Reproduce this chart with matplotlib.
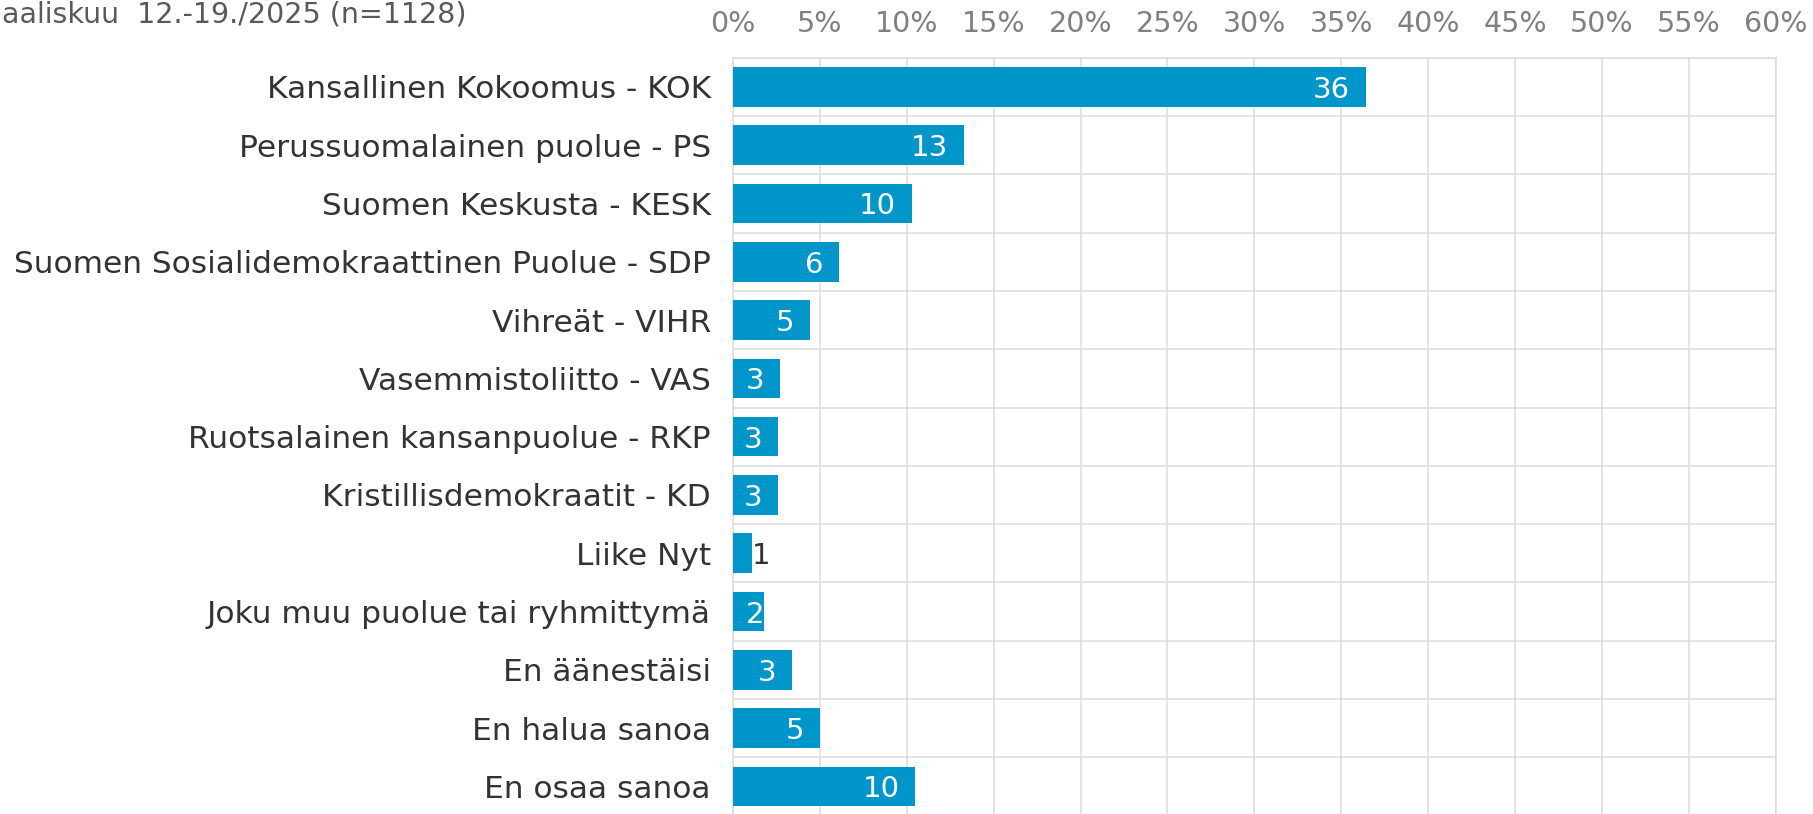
import matplotlib
matplotlib.use("Agg")
import matplotlib.pyplot as plt
import matplotlib.transforms as mtransforms
import numpy as np

# Data
categories = [
    "Kansallinen Kokoomus - KOK",
    "Perussuomalainen puolue - PS",
    "Suomen Keskusta - KESK",
    "Suomen Sosialidemokraattinen Puolue - SDP",
    "Vihreät - VIHR",
    "Vasemmistoliitto - VAS",
    "Ruotsalainen kansanpuolue - RKP",
    "Kristillisdemokraatit - KD",
    "Liike Nyt",
    "Joku muu puolue tai ryhmittymä",
    "En äänestäisi",
    "En halua sanoa",
    "En osaa sanoa",
]
values = [36.4, 13.3, 10.3, 6.1, 4.45, 2.7, 2.6, 2.6, 1.1, 1.8, 3.4, 5.0, 10.5]
labels = ["36", "13", "10", "6", "5", "3", "3", "3", "1", "2", "3", "5", "10"]
xticks = list(range(0, 61, 5))
title = "aaliskuu  12.-19./2025 (n=1128)"

bar_color = "#0096c9"
grid_color = "#dcdcdc"
text_color = "#333333"
tick_color = "#808080"

W, H = 1813, 814
fig = plt.figure(figsize=(W / 100, H / 100), dpi=100)
ax = fig.add_axes([733 / W, 1 - 815.6 / H, (1775.7 - 733) / W, (815.6 - 57.7) / H])

y = np.arange(len(categories))
ax.barh(y, values, height=0.68, color=bar_color, zorder=3)

ax.set_xlim(0, 60)
ax.set_ylim(len(categories) - 0.5, -0.5)

# grid: vertical every 5 %, horizontal between rows
ax.set_xticks(xticks)
ax.set_xticklabels([f"{t}%" for t in xticks])
ax.set_yticks(y)
ax.set_yticklabels(categories)
ax.set_yticks(np.arange(len(categories) + 1) - 0.5, minor=True)
ax.grid(axis="x", which="major", color=grid_color, lw=1.1, zorder=0)
ax.grid(axis="y", which="minor", color=grid_color, lw=1.1, zorder=0)
ax.grid(axis="y", which="major", visible=False)

ax.xaxis.tick_top()
ax.tick_params(axis="x", which="both", length=0, pad=14.5, labelsize=20.5, labelcolor=tick_color)
ax.tick_params(axis="y", which="both", length=0, pad=16, labelsize=22.5, labelcolor=text_color)
for s in ax.spines.values():
    s.set_color(grid_color)
    s.set_linewidth(1.1)

# data labels at inside end
for i, (v, lab) in enumerate(zip(values, labels)):
    if v < 1.5:
        ax.text(v, i, lab, ha="left", va="center_baseline", fontsize=21, color=text_color, zorder=4)
    elif v < 2.2:
        ax.text(v, i, lab, ha="right", va="center_baseline", fontsize=21, color="white", zorder=4)
    else:
        tr = ax.transData + mtransforms.ScaledTranslation(-11.5 / 72, 0, fig.dpi_scale_trans)
        ax.text(v, i, lab, ha="right", va="center_baseline", fontsize=21, color="white",
                transform=tr, zorder=4)

fig.text(2 / W, 1 - 15 / H, title, ha="left", va="center", fontsize=20.5, color="#595959")

plt.savefig("out.png", dpi=100)
